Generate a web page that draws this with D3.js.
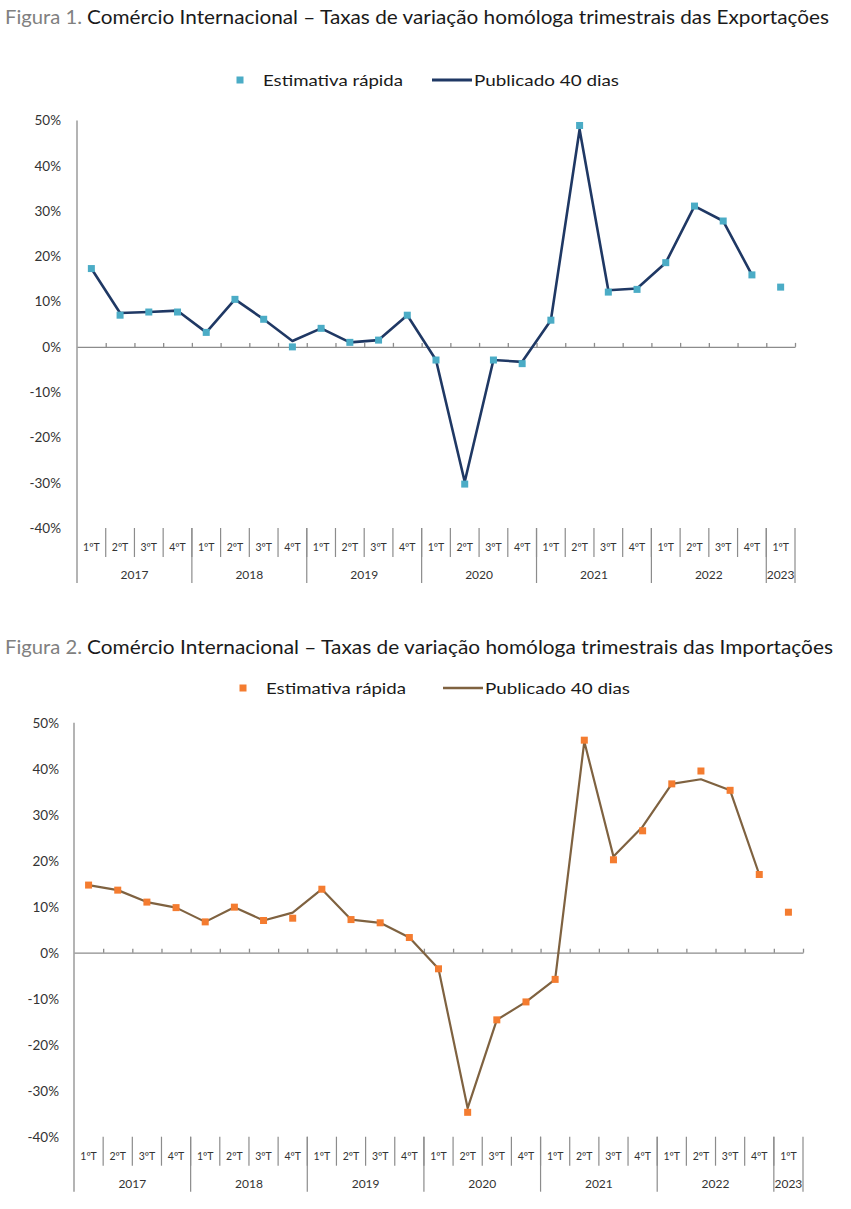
<!DOCTYPE html>
<html>
<head>
<meta charset="utf-8">
<script src="https://cdn.jsdelivr.net/npm/d3@7"></script>
<style>
  body { margin: 0; background: #fff; }
  svg { display: block; font-family: Lato, 'Open Sans', sans-serif; }
</style>
</head>
<body>
<svg id="chart" width="851" height="1209"></svg>
<script>
// categories
var quarterLabels = ['1ºT','2ºT','3ºT','4ºT','1ºT','2ºT','3ºT','4ºT','1ºT','2ºT','3ºT','4ºT',
  '1ºT','2ºT','3ºT','4ºT','1ºT','2ºT','3ºT','4ºT','1ºT','2ºT','3ºT','4ºT','1ºT']
var yearLabels = ['2017','2018','2019','2020','2021','2022','2023']
var yearSpans = [4, 4, 4, 4, 4, 4, 1]
var yTicks = [-40, -30, -20, -10, 0, 10, 20, 30, 40, 50]

// exports (%)
var expEstimativa = [17.3, 7.0, 7.7, 7.7, 3.2, 10.5, 6.1, 0.0, 4.1, 1.0, 1.5, 7.0,
  -2.9, -30.3, -2.9, -3.7, 5.9, 48.9, 12.1, 12.7, 18.6, 31.1, 27.8, 15.9, 13.2]
var expPublicado = [17.3, 7.5, 7.7, 8.0, 3.2, 10.5, 6.1, 1.3, 4.1, 1.0, 1.5, 7.0,
  -2.9, -29.8, -2.9, -3.3, 5.9, 48.0, 12.5, 12.9, 18.6, 31.1, 27.8, 15.9, null]

// imports (%)
var impEstimativa = [14.7, 13.6, 11.0, 9.8, 6.7, 9.9, 7.0, 7.5, 13.8, 7.2, 6.5, 3.3,
  -3.5, -34.7, -14.6, -10.7, -5.8, 46.2, 20.2, 26.5, 36.7, 39.5, 35.3, 17.0, 8.8]
var impPublicado = [14.7, 13.6, 11.0, 9.8, 6.7, 9.9, 7.0, 8.7, 13.8, 7.2, 6.5, 3.3,
  -3.5, -33.8, -14.6, -10.7, -5.8, 45.9, 20.9, 27.4, 36.7, 37.7, 35.3, 17.0, null]

var svg = d3.select('#chart')
var axisColor = '#8c8c8c'
var textColor = '#333'

function drawChart (cfg) {
  // title
  svg.append('text')
    .attr('x', 5).attr('y', cfg.titleY)
    .attr('font-size', 19).attr('fill', '#808080')
    .attr('textLength', 77).attr('lengthAdjust', 'spacingAndGlyphs')
    .text(cfg.figLabel)
  svg.append('text')
    .attr('x', 87).attr('y', cfg.titleY)
    .attr('font-size', 19).attr('fill', '#1a1a1a')
    .attr('textLength', cfg.titleLen).attr('lengthAdjust', 'spacingAndGlyphs')
    .text(cfg.title)

  // legend
  var lg = svg.append('g').attr('font-size', 16).attr('fill', '#1a1a1a')
  lg.append('rect')
    .attr('x', cfg.legX - 3.5).attr('y', cfg.legY - 3.5)
    .attr('width', 7).attr('height', 7)
    .attr('fill', cfg.markerColor)
  lg.append('text')
    .attr('x', cfg.legX + 23).attr('y', cfg.legY + 5.5)
    .attr('textLength', 140).attr('lengthAdjust', 'spacingAndGlyphs')
    .text('Estimativa rápida')
  lg.append('line')
    .attr('x1', cfg.legLineX).attr('x2', cfg.legLineX + 40)
    .attr('y1', cfg.legY).attr('y2', cfg.legY)
    .attr('stroke', cfg.lineColor).attr('stroke-width', cfg.lineWidth + 0.5)
  lg.append('text')
    .attr('x', cfg.legLineX + 42).attr('y', cfg.legY + 5.5)
    .attr('textLength', 145).attr('lengthAdjust', 'spacingAndGlyphs')
    .text('Publicado 40 dias')

  // scales
  var x = d3.scaleBand()
    .domain(d3.range(quarterLabels.length))
    .range([cfg.x0, cfg.x1])
    .padding(0)
  var y = d3.scaleLinear().domain([-40, 50]).range([cfg.yBottom, cfg.yTop])
  var bw = x.bandwidth()

  // y axis labels
  svg.append('g')
    .attr('transform', `translate(${cfg.x0}, 0)`)
    .call(d3.axisLeft(y).tickValues(yTicks).tickSize(0).tickPadding(cfg.tickPad).tickFormat(d => d + '%'))
    .call(g => g.select('.domain').remove())
    .call(g => g.selectAll('text')
      .attr('font-family', 'Lato, sans-serif')
      .attr('font-size', 13.5).attr('fill', textColor))

  // vertical axis line, reaching down through the category rows
  svg.append('line')
    .attr('x1', cfg.x0).attr('x2', cfg.x0)
    .attr('y1', y(50)).attr('y2', cfg.yBottom + 55)
    .attr('stroke', axisColor).attr('stroke-width', 1.3)

  // horizontal axis at 0% with ticks at category boundaries
  svg.append('g')
    .attr('transform', `translate(0, ${y(0)})`)
    .call(d3.axisTop(d3.scaleLinear().domain([0, quarterLabels.length]).range([cfg.x0, cfg.x1]))
      .tickValues(d3.range(1, quarterLabels.length + 1)).tickSize(4).tickSizeOuter(0).tickFormat(''))
    .call(g => g.selectAll('line, path').attr('stroke', axisColor).attr('stroke-width', 1.3))

  // category rows
  var cat = svg.append('g')
  cat.selectAll('line.q')
    .data(d3.range(1, quarterLabels.length))
    .enter().append('line')
    .attr('class', 'q')
    .attr('x1', d => x(d)).attr('x2', d => x(d))
    .attr('y1', cfg.yBottom).attr('y2', cfg.yBottom + 29)
    .attr('stroke', axisColor).attr('stroke-width', 1.2)
  cat.selectAll('text.q')
    .data(quarterLabels)
    .enter().append('text')
    .attr('class', 'q')
    .attr('x', (d, i) => x(i) + bw / 2)
    .attr('y', cfg.yBottom + 23)
    .attr('text-anchor', 'middle')
    .attr('font-size', 10.5).attr('fill', textColor)
    .text(d => d)

  var starts = d3.cumsum([0].concat(yearSpans))
  cat.selectAll('line.y')
    .data(starts.slice(1))
    .enter().append('line')
    .attr('class', 'y')
    .attr('x1', d => d >= quarterLabels.length ? cfg.x1 : x(d))
    .attr('x2', d => d >= quarterLabels.length ? cfg.x1 : x(d))
    .attr('y1', cfg.yBottom).attr('y2', cfg.yBottom + 55)
    .attr('stroke', axisColor).attr('stroke-width', 1.2)
  cat.selectAll('text.y')
    .data(yearLabels)
    .enter().append('text')
    .attr('class', 'y')
    .attr('x', (d, i) => cfg.x0 + (starts[i] + yearSpans[i] / 2) * bw)
    .attr('y', cfg.yBottom + 51)
    .attr('text-anchor', 'middle')
    .attr('font-size', 12).attr('fill', textColor)
    .text(d => d)

  // published line
  var line = d3.line()
    .defined(d => d != null)
    .x((d, i) => x(i) + bw / 2)
    .y(d => y(d))
  svg.append('path')
    .datum(cfg.published)
    .attr('d', line)
    .attr('fill', 'none')
    .attr('stroke', cfg.lineColor)
    .attr('stroke-width', cfg.lineWidth)
    .attr('stroke-linejoin', 'round')

  // quick estimate markers
  svg.append('g')
    .selectAll('rect')
    .data(cfg.estimate)
    .enter().append('rect')
    .attr('x', (d, i) => x(i) + bw / 2 - 3.5)
    .attr('y', d => y(d) - 3.5)
    .attr('width', 7).attr('height', 7)
    .attr('fill', cfg.markerColor)
}

drawChart({
  figLabel: 'Figura 1.',
  title: 'Comércio Internacional – Taxas de variação homóloga trimestrais das Exportações',
  titleY: 24, titleLen: 742,
  legX: 240, legY: 80, legLineX: 432,
  x0: 77, x1: 795, yTop: 120.5, yBottom: 528, tickPad: 16,
  estimate: expEstimativa, published: expPublicado,
  markerColor: '#4bacc6', lineColor: '#1f3864', lineWidth: 2.6
})

drawChart({
  figLabel: 'Figura 2.',
  title: 'Comércio Internacional – Taxas de variação homóloga trimestrais das Importações',
  titleY: 654, titleLen: 746,
  legX: 243, legY: 688, legLineX: 443,
  x0: 74, x1: 803, yTop: 722.7, yBottom: 1136.7, tickPad: 15,
  estimate: impEstimativa, published: impPublicado,
  markerColor: '#f47c30', lineColor: '#7f6240', lineWidth: 2.2
})
</script>
</body>
</html>
